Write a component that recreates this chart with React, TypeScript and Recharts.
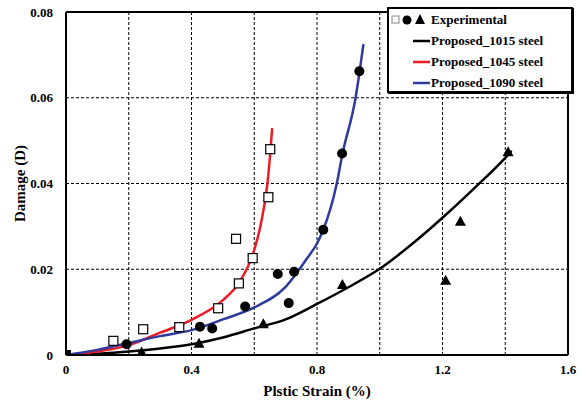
import {
  ComposedChart,
  Line,
  Scatter,
  XAxis,
  YAxis,
  CartesianGrid,
  ReferenceLine,
} from 'recharts';

// Experimental points
const exp1045 = [
  { x: 0.151, y: 0.0033 },
  { x: 0.246, y: 0.006 },
  { x: 0.361, y: 0.0065 },
  { x: 0.485, y: 0.0109 },
  { x: 0.551, y: 0.0167 },
  { x: 0.542, y: 0.0271 },
  { x: 0.595, y: 0.0226 },
  { x: 0.645, y: 0.0368 },
  { x: 0.651, y: 0.048 },
];

const exp1090 = [
  { x: 0.193, y: 0.0025 },
  { x: 0.427, y: 0.0066 },
  { x: 0.466, y: 0.0062 },
  { x: 0.571, y: 0.0113 },
  { x: 0.675, y: 0.0189 },
  { x: 0.727, y: 0.0194 },
  { x: 0.71, y: 0.0121 },
  { x: 0.82, y: 0.0292 },
  { x: 0.88, y: 0.047 },
  { x: 0.935, y: 0.0662 },
];

const exp1015 = [
  { x: 0.241, y: 0.0006 },
  { x: 0.424, y: 0.0026 },
  { x: 0.629, y: 0.0072 },
  { x: 0.881, y: 0.0163 },
  { x: 1.21, y: 0.0173 },
  { x: 1.257, y: 0.0311 },
  { x: 1.409, y: 0.0473 },
];

const origin = [{ x: 0, y: 0 }];

// Model curves
const model1015 = [
  { x: 0, y: 0 },
  { x: 0.1, y: 0.0003 },
  { x: 0.2, y: 0.0008 },
  { x: 0.3, y: 0.0015 },
  { x: 0.4, y: 0.0025 },
  { x: 0.5, y: 0.0041 },
  { x: 0.6, y: 0.0062 },
  { x: 0.7, y: 0.0083 },
  { x: 0.8, y: 0.0119 },
  { x: 0.9, y: 0.0158 },
  { x: 1.0, y: 0.0201 },
  { x: 1.1, y: 0.0257 },
  { x: 1.2, y: 0.032 },
  { x: 1.3, y: 0.0388 },
  { x: 1.4, y: 0.046 },
  { x: 1.42, y: 0.0476 },
];

const model1045 = [
  { x: 0, y: 0 },
  { x: 0.1, y: 0.0008 },
  { x: 0.2, y: 0.0023 },
  { x: 0.3, y: 0.0052 },
  { x: 0.4, y: 0.0082 },
  { x: 0.5, y: 0.0128 },
  { x: 0.55, y: 0.0167 },
  { x: 0.6, y: 0.0245 },
  { x: 0.62, y: 0.0302 },
  { x: 0.642, y: 0.04 },
  { x: 0.651, y: 0.047 },
  { x: 0.657, y: 0.0529 },
];

const model1090 = [
  { x: 0, y: 0 },
  { x: 0.1, y: 0.0012 },
  { x: 0.2, y: 0.0028 },
  { x: 0.3, y: 0.0044 },
  { x: 0.4, y: 0.0058 },
  { x: 0.5, y: 0.0083 },
  { x: 0.6, y: 0.0111 },
  { x: 0.7, y: 0.0159 },
  { x: 0.765, y: 0.0222 },
  { x: 0.8, y: 0.026 },
  { x: 0.82, y: 0.0292 },
  { x: 0.863, y: 0.04 },
  { x: 0.88, y: 0.0465 },
  { x: 0.923, y: 0.06 },
  { x: 0.948, y: 0.0725 },
];

const xTicks = [0, 0.2, 0.4, 0.6, 0.8, 1.0, 1.2, 1.4, 1.6];
const xLabels = ['0', '', '0.4', '', '0.8', '', '1.2', '', '1.6'];
const yTicks = [0, 0.02, 0.04, 0.06, 0.08];
const yLabels = ['0', '0.02', '0.04', '0.06', '0.08'];

const legendItems = [
  { name: 'Proposed_1015 steel', color: '#000000' },
  { name: 'Proposed_1045 steel', color: '#ed1c24' },
  { name: 'Proposed_1090 steel', color: '#2e3a9c' },
];

const font = '"Liberation Serif", "Times New Roman", serif';

const OpenSquare = (props: any) => (
  <rect x={props.cx - 4.5} y={props.cy - 4.5} width={9} height={9} fill="#fff" stroke="#000" strokeWidth={1.2} />
);
const FilledSquare = (props: any) => (
  <rect x={props.cx - 5} y={props.cy - 5} width={10} height={10} fill="#000" />
);
const Dot = (props: any) => <circle cx={props.cx} cy={props.cy} r={5} fill="#000" />;
const Tri = (props: any) => (
  <polygon
    points={`${props.cx},${props.cy - 6} ${props.cx - 5.5},${props.cy + 4} ${props.cx + 5.5},${props.cy + 4}`}
    fill="#000"
  />
);

function LegendBox() {
  const row = { display: 'flex', alignItems: 'center', height: 21 } as const;
  return (
    <div
      style={{
        position: 'absolute',
        left: 387,
        top: 7,
        width: 182,
        height: 82,
        border: '2px solid #000',
        boxShadow: '1px 1px 0 #000',
        background: '#fff',
        fontFamily: font,
        fontWeight: 'bold',
        fontSize: 13,
        color: '#000',
        lineHeight: 1,
      }}
    >
      <div style={row}>
        <svg width={42} height={14}>
          <rect x={3} y={3} width={7} height={7} fill="#fff" stroke="#888" strokeWidth={1} />
          <circle cx={18} cy={7} r={4.5} fill="#000" />
          <polygon points="31,1 26,11 36,11" fill="#000" />
        </svg>
        <span>Experimental</span>
      </div>
      {legendItems.map(item => (
        <div key={item.name} style={row}>
          <svg width={42} height={14}>
            <line x1={24} y1={7} x2={41} y2={7} stroke={item.color} strokeWidth={2.5} />
          </svg>
          <span>{item.name}</span>
        </div>
      ))}
    </div>
  );
}

export default function App() {
  return (
    <div style={{ position: 'absolute', left: 0, top: 0, width: 581, height: 404, background: '#fff' }}>
      <ComposedChart width={581} height={404} margin={{ top: 12, right: 13, left: 0, bottom: 0 }}>
        <CartesianGrid stroke="#000" strokeDasharray="3 2" strokeWidth={1} />
        <XAxis
          dataKey="x"
          type="number"
          domain={[0, 1.6]}
          ticks={xTicks}
          height={49}
          allowDataOverflow
          tickLine={false}
          tickSize={8}
          axisLine={{ stroke: '#000', strokeWidth: 2 }}
          tick={{ fill: '#000', fontSize: 13, fontWeight: 'bold', fontFamily: font }}
          tickFormatter={(v: number) => xLabels[xTicks.indexOf(v)] ?? ''}
          label={{
            value: 'Plstic Strain (%)',
            position: 'insideBottom',
            offset: 8,
            fill: '#000',
            fontSize: 15,
            fontWeight: 'bold',
            fontFamily: font,
          }}
        />
        <YAxis
          dataKey="y"
          type="number"
          domain={[0, 0.08]}
          ticks={yTicks}
          width={66}
          allowDataOverflow
          tickLine={false}
          tickSize={10}
          tickMargin={3}
          axisLine={{ stroke: '#000', strokeWidth: 2 }}
          tick={{ fill: '#000', fontSize: 13, fontWeight: 'bold', fontFamily: font }}
          tickFormatter={(v: number) => yLabels[yTicks.indexOf(v)] ?? ''}
          label={{
            value: 'Damage (D)',
            angle: -90,
            position: 'insideLeft',
            offset: 20,
            style: { textAnchor: 'middle' },
            fill: '#000',
            fontSize: 15,
            fontWeight: 'bold',
            fontFamily: font,
          }}
        />
        <ReferenceLine y={0.08} stroke="#000" strokeWidth={2} />
        <ReferenceLine x={1.6} stroke="#000" strokeWidth={2} />
        <Line data={model1015} dataKey="y" type="monotone" stroke="#000000" strokeWidth={2.5} dot={false} isAnimationActive={false} />
        <Line data={model1045} dataKey="y" type="monotone" stroke="#ed1c24" strokeWidth={2.5} dot={false} isAnimationActive={false} />
        <Line data={model1090} dataKey="y" type="monotone" stroke="#2e3a9c" strokeWidth={2.5} dot={false} isAnimationActive={false} />
        <Scatter data={exp1045} dataKey="y" shape={OpenSquare} isAnimationActive={false} />
        <Scatter data={exp1090} dataKey="y" shape={Dot} isAnimationActive={false} />
        <Scatter data={exp1015} dataKey="y" shape={Tri} isAnimationActive={false} />
        <Scatter data={origin} dataKey="y" shape={FilledSquare} isAnimationActive={false} />
      </ComposedChart>
      <LegendBox />
    </div>
  );
}
